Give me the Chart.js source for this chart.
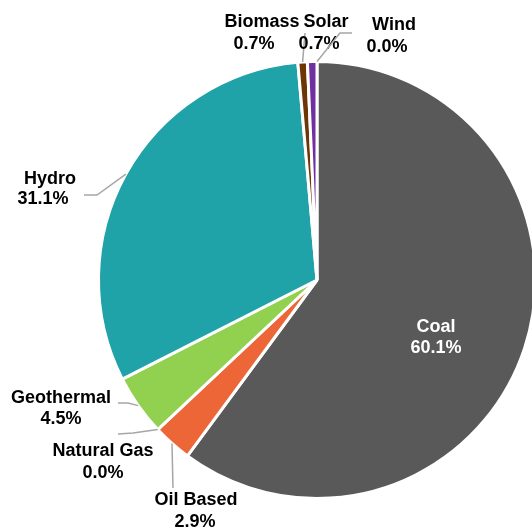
<!DOCTYPE html>
<html>
<head>
<meta charset="utf-8">
<style>
  html, body { margin: 0; padding: 0; background: #ffffff; overflow: hidden; }
  #wrap { width: 540px; height: 531px; }
</style>
<script src="https://cdn.jsdelivr.net/npm/chart.js@4.4.1/dist/chart.umd.min.js"></script>
</head>
<body>
<div id="wrap"><canvas id="pie" width="540" height="531"></canvas></div>
<script>
// Electricity generation mix by source (share of total, %)
const categories = ['Coal', 'Oil Based', 'Natural Gas', 'Geothermal', 'Hydro', 'Biomass', 'Solar', 'Wind'];
const shares = [60.1, 2.9, 0.0, 4.5, 31.1, 0.7, 0.7, 0.0];
const sliceColors = ['#595959', '#ED6637', '#A5A5A5', '#92D050', '#1FA2A8', '#6E3605', '#7030A0', '#4472C4'];

// Label placement: centre of each text line, and leader-line bend points (px)
const labelLayout = {
  'Coal':        { lines: [[436, 327], [436, 348]], color: '#ffffff', leader: [] },
  'Oil Based':   { lines: [[196, 500], [195, 522]], color: '#000000', leader: [[173, 488]] },
  'Natural Gas': { lines: [[103, 451], [103, 473]], color: '#000000', leader: [[133, 433], [118, 434]] },
  'Geothermal':  { lines: [[61, 398], [61, 419]],   color: '#000000', leader: [[128, 403], [118, 403]] },
  'Hydro':       { lines: [[50, 179], [43, 199]],   color: '#000000', leader: [[97, 195], [84, 195]] },
  'Biomass':     { lines: [[262, 22], [254, 44]],   color: '#000000', leader: [[305, 33]] },
  'Solar':       { lines: [[326, 22], [319, 44]],   color: '#000000', leader: [] },
  'Wind':        { lines: [[394, 25], [387, 47]],   color: '#000000', leader: [[340, 33], [352, 33]] }
};

const sliceLabels = {
  id: 'sliceLabels',
  afterDatasetsDraw(chart) {
    const ctx = chart.ctx;
    const arcs = chart.getDatasetMeta(0).data;
    ctx.save();
    arcs.forEach((arc, i) => {
      const name = categories[i];
      const spec = labelLayout[name];
      const mid = (arc.startAngle + arc.endAngle) / 2;
      const sx = arc.x + Math.cos(mid) * arc.outerRadius;
      const sy = arc.y + Math.sin(mid) * arc.outerRadius;
      if (spec.leader.length) {
        ctx.strokeStyle = '#A6A6A6';
        ctx.lineWidth = 1.5;
        ctx.beginPath();
        ctx.moveTo(sx, sy);
        spec.leader.forEach(p => ctx.lineTo(p[0], p[1]));
        ctx.stroke();
      }
      const texts = [name, shares[i].toFixed(1) + '%'];
      ctx.fillStyle = spec.color;
      ctx.font = 'bold 18px "Liberation Sans", Arial, sans-serif';
      ctx.textAlign = 'center';
      ctx.textBaseline = 'middle';
      texts.forEach((t, k) => ctx.fillText(t, spec.lines[k][0], spec.lines[k][1]));
    });
    ctx.restore();
  }
};

new Chart(document.getElementById('pie'), {
  type: 'pie',
  data: {
    labels: categories,
    datasets: [{
      data: shares,
      backgroundColor: sliceColors,
      borderColor: '#ffffff',
      borderWidth: 3
    }]
  },
  options: {
    responsive: false,
    animation: false,
    layout: { padding: { left: 97, top: 60, right: 3, bottom: 31 } },
    plugins: {
      legend: { display: false },
      tooltip: { enabled: false }
    }
  },
  plugins: [sliceLabels]
});
</script>
</body>
</html>
